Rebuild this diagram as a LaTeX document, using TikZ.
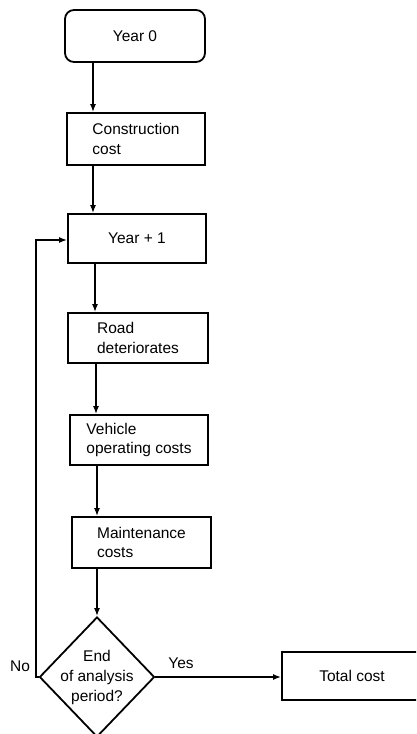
\documentclass[tikz,border=0pt]{standalone}
\usepackage{fontspec}
\setmainfont{Liberation Sans}
\usetikzlibrary{shapes.geometric,arrows.meta}
\begin{document}
\begin{tikzpicture}[x=1pt,y=1pt,
  every node/.style={font=\fontsize{15.5}{19.5}\selectfont},
  stepbox/.style={draw,line width=1.8pt,inner sep=0pt,align=left},
  conn/.style={line width=1.8pt,-{Latex[length=8pt,width=6pt]}}]
\useasboundingbox (0,0) rectangle (416,-734);
\clip (0,0) rectangle (416,-734);
\fill[white] (0,0) rectangle (416,-734);
\node[stepbox,rounded corners=9pt,minimum width=140pt,minimum height=52pt,align=center] (y0) at (135,-36) {Year 0};
\node[stepbox,minimum width=138pt,minimum height=52pt] (cc) at (136,-139) {Construction\\cost};
\node[stepbox,minimum width=138pt,minimum height=49pt,align=center] (y1) at (137,-238.5) {Year + 1};
\node[stepbox,minimum width=140pt,minimum height=50pt] (rd) at (138,-338) {Road\\deteriorates};
\node[stepbox,minimum width=138pt,minimum height=50pt] (vc) at (139,-440) {Vehicle\\operating costs};
\node[stepbox,minimum width=139pt,minimum height=51pt] (mc) at (141.5,-542.5) {Maintenance\\costs};
\node[diamond,draw,line width=1.8pt,inner sep=0pt,minimum width=115pt,minimum height=120pt,
  label={[align=center,font=\fontsize{15.5}{20}\selectfont]center:End\\of analysis\\period?}] (d) at (97,-677) {};
\node[stepbox,minimum width=140pt,minimum height=48pt,align=center] (tc) at (352,-676) {Total cost};
\node (no) at (20,-666) {No};
\node (yes) at (181,-663) {Yes};
\coordinate (a1) at (93,0);
\coordinate (a2) at (95,0);
\coordinate (a3) at (96,0);
\coordinate (a4) at (97,0);
\coordinate (lp) at (36,0);
\draw[conn] (y0.south -| a1) -- (cc.north -| a1);
\draw[conn] (cc.south -| a1) -- (y1.north -| a1);
\draw[conn] (y1.south -| a2) -- (rd.north -| a2);
\draw[conn] (rd.south -| a3) -- (vc.north -| a3);
\draw[conn] (vc.south -| a4) -- (mc.north -| a4);
\draw[conn] (mc.south -| d.north) -- (d.north);
\draw[conn] (d.west) -- (d.west -| lp) -- ([yshift=-1.5pt]y1.west -| lp) -- ([yshift=-1.5pt]y1.west);
\draw[conn] (d.east) -- (d.east -| tc.west);
\end{tikzpicture}
\end{document}
